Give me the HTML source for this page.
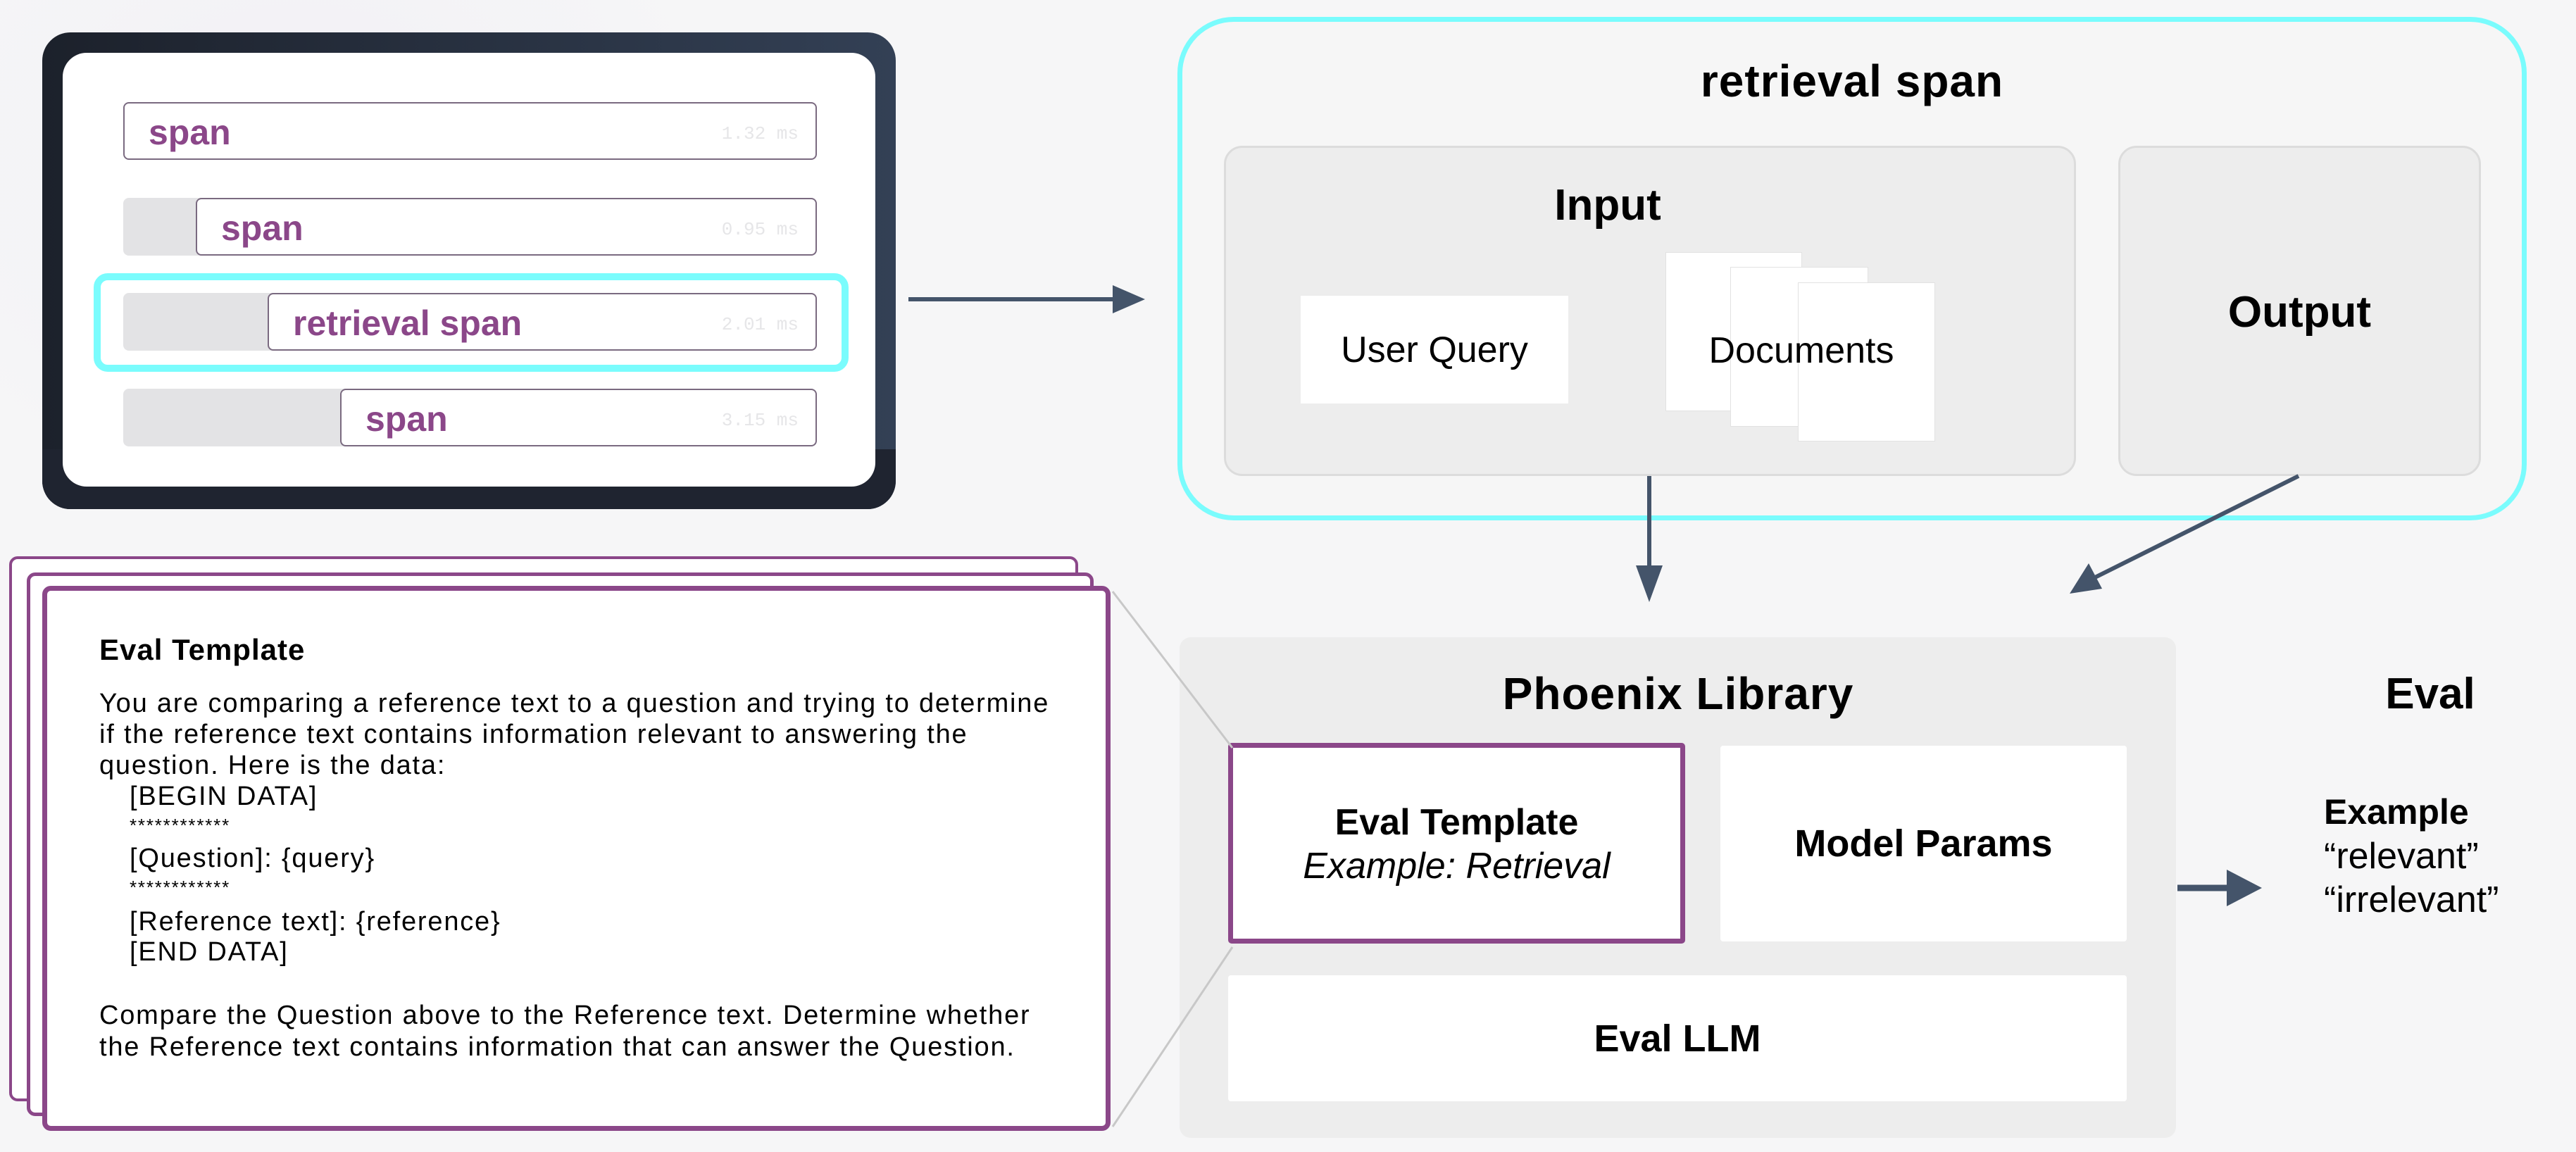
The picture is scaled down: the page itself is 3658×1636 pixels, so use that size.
<!DOCTYPE html>
<html><head><meta charset="utf-8"><style>
*{margin:0;padding:0;box-sizing:border-box}
body{width:3658px;height:1636px;position:relative;overflow:hidden;background:#f6f6f7;font-family:"Liberation Sans",sans-serif;color:#000}
.a{position:absolute}
.c{display:flex;align-items:center;justify-content:center;text-align:center}
.row{position:absolute;left:175px;width:985px;height:82px;background:#e3e3e5;border-radius:8px}
.sp{position:absolute;top:0;right:0;height:82px;background:#fff;border:2px solid #7a6a80;border-radius:8px}
.sp b{position:absolute;left:34px;top:12px;font-size:50px;color:#8b4789}
.sp i{position:absolute;right:24px;top:28px;font:26px "Liberation Mono",monospace;color:#e6e6e8;font-style:normal}
.b{font-weight:bold}
.tx{position:absolute;font-size:38px;letter-spacing:1.8px;white-space:nowrap;line-height:44px}
</style></head><body>
<div class="a" style="left:0;top:0;width:1060px;height:760px;background:radial-gradient(ellipse at 40% 30%,#f1f0f6 0%,#f6f6f7 70%)"></div>

<div class="a" style="left:60px;top:46px;width:1212px;height:677px;border-radius:40px;background:linear-gradient(90deg,#1c212b,#334055)"></div>
<div class="a" style="left:60px;top:638px;width:1212px;height:85px;border-radius:0 0 40px 40px;background:#1f2430"></div>
<div class="a" style="left:89px;top:75px;width:1154px;height:616px;border-radius:34px;background:#fff"></div>
<div class="row" style="top:145px;background:none"><div class="sp" style="left:0"><b>span</b><i>1.32 ms</i></div></div>
<div class="row" style="top:281px"><div class="sp" style="left:103px"><b>span</b><i>0.95 ms</i></div></div>
<div class="a" style="left:133px;top:388px;width:1072px;height:140px;border:10px solid #7afcfd;border-radius:20px"></div>
<div class="row" style="top:416px"><div class="sp" style="left:205px"><b>retrieval span</b><i>2.01 ms</i></div></div>
<div class="row" style="top:552px"><div class="sp" style="left:308px"><b>span</b><i>3.15 ms</i></div></div>

<div class="a" style="left:1672px;top:24px;width:1916px;height:715px;border:7px solid #7afcfd;border-radius:80px;background:#f6f6f6"></div>
<div class="a c b" style="left:1672px;top:80px;width:1916px;height:70px;font-size:64px;letter-spacing:1px">retrieval span</div>
<div class="a" style="left:1738px;top:207px;width:1210px;height:469px;border:3px solid #dcdcdc;border-radius:26px;background:#ededed"></div>
<div class="a c b" style="left:2183px;top:256px;width:200px;height:70px;font-size:62px">Input</div>
<div class="a c" style="left:1847px;top:420px;width:380px;height:153px;background:#fff;font-size:52px">User Query</div>
<div class="a" style="left:2365px;top:358px;width:194px;height:226px;background:#fff;border:1px solid #e2e2e2"></div>
<div class="a" style="left:2457px;top:379px;width:196px;height:227px;background:#fff;border:1px solid #e2e2e2"></div>
<div class="a" style="left:2553px;top:401px;width:195px;height:226px;background:#fff;border:1px solid #e2e2e2"></div>
<div class="a c" style="left:2358px;top:468px;width:400px;height:60px;font-size:52px">Documents</div>
<div class="a" style="left:3008px;top:207px;width:515px;height:469px;border:3px solid #dcdcdc;border-radius:26px;background:#ededed"></div>
<div class="a c b" style="left:3008px;top:408px;width:515px;height:70px;font-size:62px">Output</div>

<div class="a" style="left:13px;top:790px;width:1518px;height:774px;border:4px solid #8b4789;border-radius:12px;background:#fff"></div>
<div class="a" style="left:38px;top:813px;width:1515px;height:772px;border:5px solid #8b4789;border-radius:12px;background:#fff"></div>
<div class="a" style="left:60px;top:832px;width:1517px;height:774px;border:7px solid #8b4789;border-radius:12px;background:#fff"></div>
<div class="tx b" style="left:141px;top:901px;font-size:42px;letter-spacing:1px">Eval Template</div>
<div class="tx" style="left:141px;top:977px">You are comparing a reference text to a question and trying to determine</div>
<div class="tx" style="left:141px;top:1021px">if the reference text contains information relevant to answering the</div>
<div class="tx" style="left:141px;top:1065px">question. Here is the data:</div>
<div class="tx" style="left:184px;top:1109px">[BEGIN DATA]</div>
<div class="tx" style="left:184px;top:1150px;font-size:26px">************</div>
<div class="tx" style="left:184px;top:1197px">[Question]: {query}</div>
<div class="tx" style="left:184px;top:1238px;font-size:26px">************</div>
<div class="tx" style="left:184px;top:1287px">[Reference text]: {reference}</div>
<div class="tx" style="left:184px;top:1330px">[END DATA]</div>
<div class="tx" style="left:141px;top:1420px">Compare the Question above to the Reference text. Determine whether</div>
<div class="tx" style="left:141px;top:1465px">the Reference text contains information that can answer the Question.</div>

<div class="a" style="left:1675px;top:905px;width:1415px;height:711px;border-radius:16px;background:#ededed"></div>
<div class="a c b" style="left:1775px;top:950px;width:1216px;height:70px;font-size:64px;letter-spacing:1px">Phoenix Library</div>
<div class="a" style="left:1744px;top:1055px;width:649px;height:285px;border:7px solid #8b4789;border-radius:5px;background:#fff"></div>
<div class="a c b" style="left:1744px;top:1138px;width:649px;height:60px;font-size:52px">Eval Template</div>
<div class="a c" style="left:1744px;top:1200px;width:649px;height:60px;font-size:52px;font-style:italic">Example: Retrieval</div>
<div class="a c b" style="left:2443px;top:1059px;width:577px;height:278px;background:#fff;border-radius:4px;font-size:54px">Model Params</div>
<div class="a c b" style="left:1744px;top:1385px;width:1276px;height:179px;background:#fff;border-radius:4px;font-size:54px">Eval LLM</div>
<div class="a c b" style="left:3351px;top:950px;width:200px;height:70px;font-size:62px">Eval</div>
<div class="tx b" style="left:3300px;top:1123px;font-size:50px;line-height:60px;letter-spacing:0">Example</div>
<div class="tx" style="left:3300px;top:1186px;font-size:52px;line-height:60px;letter-spacing:0">“relevant”</div>
<div class="tx" style="left:3300px;top:1248px;font-size:52px;line-height:60px;letter-spacing:0">“irrelevant”</div>

<svg class="a" style="left:0;top:0" width="3658" height="1636">
<g stroke="#c8c8c8" stroke-width="3" fill="none">
<line x1="1580" y1="840" x2="1750" y2="1062"/>
<line x1="1580" y1="1600" x2="1750" y2="1345"/>
</g>
<g stroke="#44546a" stroke-width="6" fill="#44546a">
<line x1="1290" y1="425" x2="1590" y2="425"/>
<polygon points="1626,425 1580,405 1580,445" stroke="none"/>
<line x1="2342" y1="676" x2="2342" y2="810"/>
<polygon points="2342,855 2323,803 2361,803" stroke="none"/>
<line x1="3264" y1="676" x2="2975" y2="820"/>
<polygon points="2939,843 2966,800 2985,836" stroke="none"/>
<line x1="3092" y1="1261" x2="3170" y2="1261" stroke-width="9"/>
<polygon points="3212,1261 3162,1235 3162,1287" stroke="none"/>
</g>
</svg>
</body></html>
